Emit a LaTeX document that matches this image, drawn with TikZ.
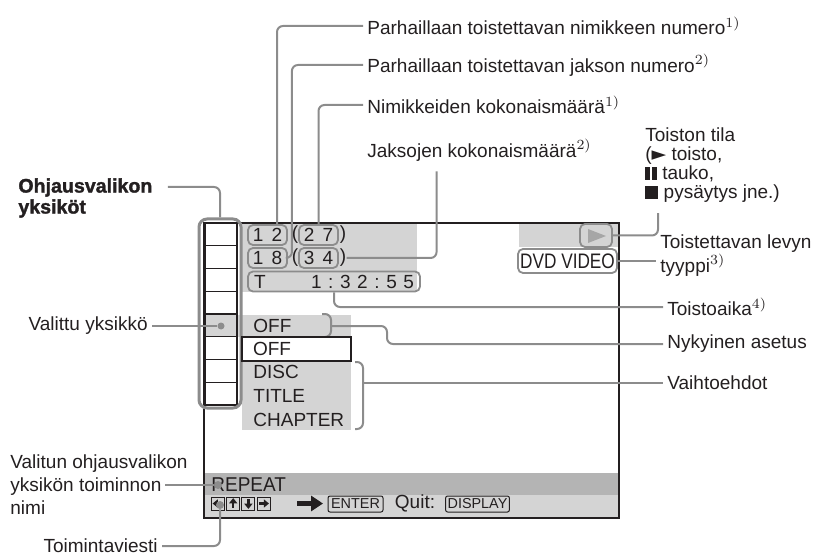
\documentclass[tikz,border=0pt]{standalone}
\usepackage{fontspec}
\setmainfont{Liberation Sans}
\newfontfamily\symfont{DejaVu Sans}
\newfontfamily\heavyfont[BoldFeatures={FakeBold=1.6}]{Liberation Sans}
\usetikzlibrary{arrows.meta,positioning}
\definecolor{leadergray}{HTML}{8C8C8C}
\definecolor{panelgray}{HTML}{D4D4D4}
\definecolor{bargray}{HTML}{B4B4B4}
\definecolor{playgray}{HTML}{A6A6A6}
\definecolor{ink}{HTML}{231F20}
\newcommand{\dsp}{\hspace{3.3pt}}
\newcommand{\pausesym}{\rule{2.3pt}{6.5pt}\hspace{1.2pt}\rule{2.3pt}{6.5pt}}
\newcommand{\stopsym}{\rule{6.5pt}{6.5pt}}

\begin{document}
\begin{tikzpicture}[
  x=0.5pt, y=-0.5pt,
  font=\fontsize{9.5}{11}\selectfont, text=ink,
  lbl/.style={anchor=west, inner sep=2pt, align=left},
  leader/.style={draw=leadergray, line width=1pt, rounded corners=3pt},
  numbox/.style={draw=leadergray, line width=0.9pt, rounded corners=2.5pt, inner sep=0pt, minimum height=10pt},
  unitbox/.style={draw=leadergray, line width=1.5pt, rounded corners=4pt, inner sep=0pt},
  cell/.style={draw=ink, line width=0.6pt},
  paren/.style={inner sep=0pt},
  item/.style={anchor=west, inner sep=0pt},
  optbox/.style={draw=ink, line width=0.6pt, fill=white, inner sep=0pt, minimum width=54.5pt, minimum height=12pt, text width=43.5pt, align=left},
  dotmark/.style={circle, fill=leadergray, inner sep=0pt, minimum size=3.5pt},
  keybox/.style={draw=ink, line width=0.5pt, inner sep=0pt, minimum size=6.5pt},
  keyarrow/.style={-{Triangle[length=2.6pt,width=4pt]}, line width=1.1pt, draw=ink},
  tagbox/.style={draw=ink, line width=0.5pt, rounded corners=1pt, inner sep=1pt, minimum height=8pt, font=\fontsize{7.2}{8}\selectfont}
]
\useasboundingbox (0,0) rectangle (817,555);

% screen
\fill[panelgray] (242,223) rectangle (417,292);
\fill[panelgray] (519,223) rectangle (619,247);
\fill[panelgray] (205,315) rectangle (351,337);
\fill[panelgray] (242,361) rectangle (351,430);
\fill[bargray] (204,473) rectangle (619,495);
\fill[panelgray] (204,495) rectangle (619,518);
\draw[ink, line width=1pt] (204,223) rectangle (619,518);

% menu column
\foreach \i in {0,...,7}
  \draw[cell] (205,{223+22.75*\i}) rectangle (237,{223+22.75*(\i+1)});
\node[unitbox, minimum width=21pt, minimum height=94.5pt] (units) at (220,313.5) {};
\node[dotmark] (seldot) at (221,326) {};

% counters
\node[numbox, minimum width=19.5pt] (t12) at (267.5,235) {1\hspace{4pt}2};
\node[paren] (op1) at (295,235) {(};
\node[numbox, minimum width=19.5pt] (t27) at (318.5,235) {2\hspace{4pt}7};
\node[paren] (cp1) at (343,235) {)};
\node[numbox, minimum width=19.5pt] (t18) at (267.5,258) {1\hspace{4pt}8};
\node[paren] (op2) at (295,258) {(};
\node[numbox, minimum width=19.5pt] (t34) at (318.5,258) {3\hspace{4pt}4};
\node[paren] (cp2) at (343,258) {)};
\node[numbox, minimum width=86pt, text width=80pt] (tbox) at (334,281.5) {T\hfill 1\dsp:\dsp3\dsp2\dsp:\dsp5\dsp5};

% play state and disc type
\node[numbox, fill=panelgray, minimum width=16pt, minimum height=11.5pt] (play) at (596,235.5) {};
\fill[playgray] (588,229) -- (606,236) -- (588,243) -- cycle;
\node[numbox, minimum width=49.5pt, minimum height=12pt, font=\fontsize{10.5}{12}\selectfont] (dvd) at (567.5,261) {\scalebox{0.82}[1]{DVD VIDEO}};

% setting and options
\node[item] (cur) at (253,326) {OFF};
\draw[leader] (322,314) -- (331,314) -- (331,337) -- (322,337);
\coordinate (offbr) at (331,326);
\node[optbox] (offopt) at (296.5,349) {OFF};
\node[item] (disc) at (253,372) {DISC};
\node[item] (title) at (253,396) {TITLE};
\node[item] (chap) at (253,420) {CHAPTER};
\draw[leader] (355,362) -- (363,362) -- (363,429) -- (355,429);
\coordinate (optbr) at (363,383);

% bottom bars
\node[item, font=\fontsize{10}{12}\selectfont] (rep) at (211,485) {\scalebox{0.95}[1]{REPEAT}};
\node[dotmark, minimum size=4pt] (repdot) at (218,485) {};
\foreach \i/\a/\b in {1/180/0,2/90/270,3/270/90,4/0/180} {
  \node[keybox] (k\i) at ({218+15.2*(\i-1)},503.5) {};
  \draw[keyarrow] ([shift={(\b:2.2pt)}]k\i.center) -- ([shift={(\a:2.7pt)}]k\i.center);
}
\node[dotmark, minimum size=4pt] (keydot) at (220,505) {};
\draw[ink, line width=2.6pt, -{Triangle[length=6pt,width=7.5pt]}] (297,503.5) -- (323,503.5);
\node[tagbox, minimum width=27.5pt] (enter) at (355.5,504) {ENTER};
\node[inner sep=0pt] (quit) at (415,503.5) {Quit:};
\node[tagbox, minimum width=31.5pt] (disp) at (477.5,504) {DISPLAY};

% labels
\node[lbl] (curtitle) at (363,26) {Parhaillaan toistettavan nimikkeen numero$^{1)}$};
\node[lbl] (curchap) at (363,65) {Parhaillaan toistettavan jakson numero$^{2)}$};
\node[lbl] (titletot) at (363,105) {Nimikkeiden kokonaismäärä$^{1)}$};
\node[lbl] (chaptot) at (363,150) {Jaksojen kokonaismäärä$^{2)}$};
\node[lbl, anchor=north west, font=\fontsize{9.5}{9.6}\selectfont] (state) at (641,123)
  {Toiston tila\\({\symfont ►} toisto,\\\pausesym{} tauko,\\\stopsym{} pysäytys jne.)};
\node[lbl, font=\fontsize{9.5}{10.5}\selectfont] (disctype) at (656,255.5) {Toistettavan levyn\\tyyppi$^{3)}$};
\node[lbl] (ptime) at (663,307) {Toistoaika$^{4)}$};
\node[lbl] (curset) at (663,344) {Nykyinen asetus};
\node[lbl] (opts) at (663,383) {Vaihtoehdot};
\node[lbl, font=\fontsize{9.8}{10.5}\selectfont\heavyfont\bfseries] (unitlbl) at (14,198) {Ohjausvalikon\\yksiköt};
\node[lbl, anchor=east] (sellbl) at (152,326) {Valittu yksikkö};
\node[lbl, font=\fontsize{9.5}{11.5}\selectfont] (funclbl) at (6,485) {Valitun ohjausvalikon\\yksikön toiminnon\\nimi};
\coordinate (funcend) at (165,485);
\node[lbl, anchor=east] (msglbl) at (162,546) {Toimintaviesti};

% leaders
\draw[leader] (curtitle.west) -| ([xshift=4.75pt]t12.north);
\draw[leader] (curchap.west) -| ([xshift=2pt]t18.east) -- (t18.east);
\draw[leader] (titletot.west) -| (t27.north);
\draw[leader] ([xshift=-21.5pt,yshift=-3pt]chaptot.south) |- (cp2.east);
\draw[leader] ([xshift=8.5pt,yshift=-3pt]state.south west) |- (play.east);
\draw[leader] (dvd.east) -- (dvd.east -| disctype.west);
\draw[leader] (tbox.south) |- (ptime.west);
\draw[leader] (offbr) -- ([xshift=28pt]offbr) |- (curset.west);
\draw[leader] (optbr) -- (opts.west);
\draw[leader] ([shift={(11,-11)}]unitlbl.east) -| (units.north);
\draw[leader] (sellbl.east) -- (seldot);
\draw[leader] (funcend) -- (repdot);
\draw[leader] (msglbl.east) -| (keydot);
\end{tikzpicture}
\end{document}
